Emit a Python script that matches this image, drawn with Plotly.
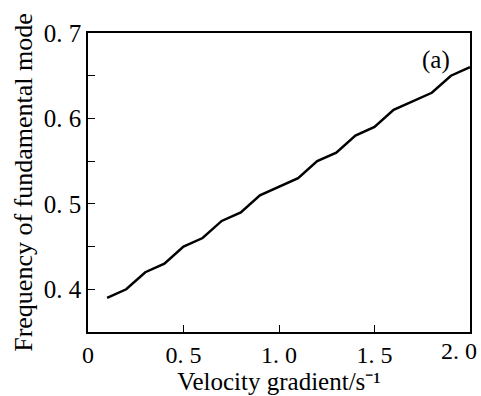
import plotly.graph_objects as go

velocity_gradient = [0.1, 0.2, 0.3, 0.4, 0.5, 0.6, 0.7, 0.8, 0.9, 1.0,
                     1.1, 1.2, 1.3, 1.4, 1.5, 1.6, 1.7, 1.8, 1.9, 2.0]
frequency = [0.39, 0.40, 0.42, 0.43, 0.45, 0.46, 0.48, 0.49, 0.51, 0.52,
             0.53, 0.55, 0.56, 0.58, 0.59, 0.61, 0.62, 0.63, 0.65, 0.66]

x_tickvals = [0, 0.5, 1.0, 1.5, 2.0]
x_ticktext = ["0", "0. 5", "1. 0", "1. 5", ""]
x_last_label = "2. 0"
y_tickvals = [0.4, 0.45, 0.5, 0.55, 0.6, 0.65, 0.7]
y_ticktext = ["0. 4", "", "0. 5", "", "0. 6", "", "0. 7"]

font = "Liberation Serif, Times New Roman, serif"

fig = go.Figure()
fig.add_trace(go.Scatter(x=velocity_gradient, y=frequency, mode="lines",
                         line=dict(color="black", width=2.5), showlegend=False))

fig.update_layout(
    width=481, height=396,
    margin=dict(l=88, r=11, t=33, b=64),
    plot_bgcolor="white", paper_bgcolor="white",
    font=dict(family=font, size=25, color="black"),
    xaxis=dict(range=[0, 2.0], tickvals=x_tickvals, ticktext=x_ticktext,
               ticks="inside", ticklen=7, tickwidth=1.2, tickcolor="black",
               showline=True, linecolor="black", linewidth=1.5, mirror=True,
               showgrid=False, zeroline=False, ticklabeloverflow="allow",
               automargin=False, tickfont=dict(size=24),
               title=dict(text="Velocity gradient/s\u207b\u00b9", font=dict(size=25), standoff=0)),
    yaxis=dict(range=[0.35, 0.7], tickvals=y_tickvals, ticktext=y_ticktext,
               ticks="inside", ticklen=7, tickwidth=1.2, tickcolor="black",
               showline=True, linecolor="black", linewidth=1.5, mirror=True,
               showgrid=False, zeroline=False, ticklabeloverflow="allow",
               automargin=False, tickfont=dict(size=25),
               title=dict(text="Frequency of fundamental mode", font=dict(size=26), standoff=4)),
    annotations=[
        dict(x=1.74, y=0.687, xref="x", yref="y", text="(a)", showarrow=False,
             xanchor="left", yanchor="top", font=dict(size=25)),
        dict(x=x_tickvals[-1], y=0, xref="x", yref="paper", text=x_last_label, showarrow=False,
             xanchor="right", yanchor="top", xshift=9, yshift=-4, font=dict(size=24)),
    ],
)

fig.write_html("out.html")
